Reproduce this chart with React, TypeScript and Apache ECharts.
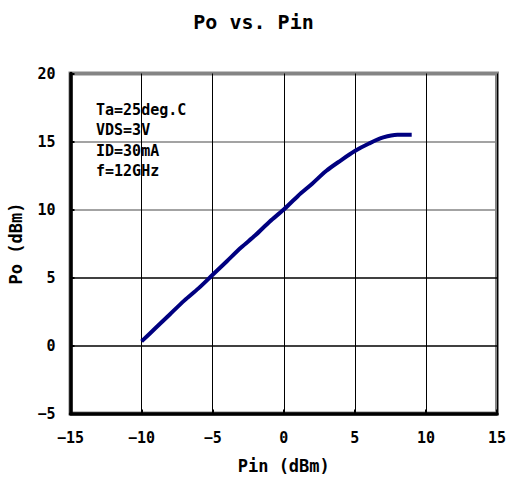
import React, { useEffect, useRef } from "react";
import * as echarts from "echarts";

const pinValues = [-10, -9, -8, -7, -6, -5, -4, -3, -2, -1, 0, 1, 2, 3, 4, 5, 6, 7, 8, 9];
const poValues = [0.3, 1.3, 2.3, 3.3, 4.2, 5.2, 6.2, 7.2, 8.1, 9.1, 10.0, 11.0, 11.9, 12.85, 13.6, 14.3, 14.85, 15.3, 15.5, 15.5];
const annotationLines = ["Ta=25deg.C", "VDS=3V", "ID=30mA", "f=12GHz"];
const titleText = "Po vs. Pin";
const xName = "Pin (dBm)";
const yName = "Po (dBm)";

const FONT = "'DejaVu Sans Mono', monospace";
const fmt = (v: number) => String(v).replace("-", "\u2212");

export default function App() {
  const ref = useRef<HTMLDivElement>(null);
  useEffect(() => {
    const chart = echarts.init(ref.current!, null, { renderer: "svg" });
    const data = pinValues.map((x, i) => [x, poValues[i]]);
    chart.setOption({
      animation: false,
      backgroundColor: "#ffffff",
      title: {
        text: titleText,
        left: "center",
        top: 7,
        textStyle: { fontFamily: FONT, fontWeight: "bold", fontSize: 20, color: "#000" },
      },
      grid: {
        left: 70.5,
        right: 10,
        top: 73.5,
        bottom: 65.5,
        show: true,
        borderColor: "#858585",
        borderWidth: 4,
        containLabel: false,
        outerBoundsMode: "none",
      },
      xAxis: {
        type: "value",
        min: -15,
        max: 15,
        interval: 5,
        name: xName,
        nameLocation: "middle",
        nameGap: 44,
        nameTextStyle: { fontFamily: FONT, fontWeight: "bold", fontSize: 17, color: "#000" },
        axisLine: { show: true, onZero: false, lineStyle: { color: "#000", width: 3.5 } },
        axisTick: { show: true, inside: true, length: 4, lineStyle: { color: "#000", width: 2 } },
        axisLabel: { fontFamily: FONT, fontWeight: "bold", fontSize: 15, color: "#000", margin: 17, formatter: fmt },
        splitLine: { show: true, lineStyle: { color: "#000", width: 1 } },
      },
      yAxis: {
        type: "value",
        min: -5,
        max: 20,
        interval: 5,
        name: yName,
        nameLocation: "middle",
        nameGap: 46,
        nameRotate: 90,
        nameTextStyle: { fontFamily: FONT, fontWeight: "bold", fontSize: 17, color: "#000" },
        axisLine: { show: true, onZero: false, lineStyle: { color: "#000", width: 3.5 } },
        axisTick: { show: true, inside: true, length: 4, lineStyle: { color: "#000", width: 2 } },
        axisLabel: { fontFamily: FONT, fontWeight: "bold", fontSize: 15, color: "#000", margin: 15, formatter: fmt },
        splitLine: {
          show: true,
          lineStyle: { color: ["#000", "#000", "#000", "#858585", "#858585", "#858585"], width: 1.5 },
        },
      },
      graphic: annotationLines.map((t, i) => ({
        type: "text",
        left: 96,
        top: 102 + i * 20.5,
        z: 10,
        style: {
          text: t,
          fill: "#000",
          font: `bold 15px ${FONT}`,
        },
      })),
      series: [
        {
          type: "line",
          data,
          smooth: 0.3,
          showSymbol: false,
          lineStyle: { color: "#000080", width: 4 },
          z: 5,
        },
      ],
    });
    return () => chart.dispose();
  }, []);
  return <div ref={ref} style={{ width: 507, height: 479, position: "absolute", left: 0, top: 0 }} />;
}
